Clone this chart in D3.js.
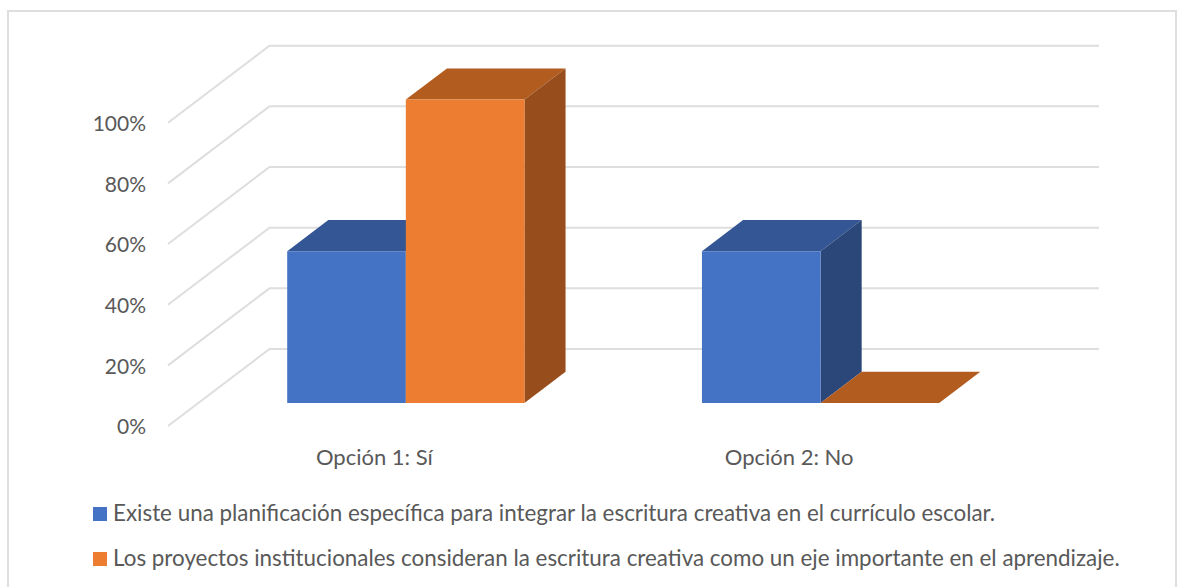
<!DOCTYPE html>
<html>
<head>
<meta charset="utf-8">
<script src="https://cdn.jsdelivr.net/npm/d3@7"></script>
<style>
body { margin: 0; background: #fff; }
text { font-family: Lato, "Open Sans", sans-serif; fill: #595959; }
</style>
</head>
<body>
<script>
// values
var categories = ["Opción 1: Sí", "Opción 2: No"];
var seriesNames = [
    "Existe una planificación específica para integrar la escritura creativa en el currículo escolar.",
    "Los proyectos institucionales consideran la escritura creativa como un eje importante en el aprendizaje."
];
var seriesA = [0.5, 0.5];
var seriesB = [1, 0];
var tickValues = [0, 0.2, 0.4, 0.6, 0.8, 1];

var colors = [
    { front: "#4472C4", top: "#345695", side: "#2B4779" },
    { front: "#ED7D31", top: "#B25C20", side: "#984E1C" }
];

var width = 1186, height = 587;

var svg = d3.select("body").append("svg")
    .attr("width", width)
    .attr("height", height)
    .style("display", "block");

// chart frame, open at the bottom where the picture was cropped
svg.append("path")
    .attr("d", "M8,587V11H1176V587")
    .attr("fill", "none")
    .attr("stroke", "#DEDEDE")
    .attr("stroke-width", 2);

// front plane scales
var x0 = d3.scaleBand().domain(categories).range([168, 997.5])
    .paddingInner(0.428).paddingOuter(0.214);
var x1 = d3.scaleBand().domain([0, 1]).range([0, x0.bandwidth()]);
var y = d3.scaleLinear().domain([0, 1]).range([426, 122.7]);

// depth: 0 is the front of the floor, 1 the back wall
var depthX = d3.scaleLinear().domain([0, 1]).range([0, 101.5]);
var depthY = d3.scaleLinear().domain([0, 1]).range([0, -77]);
var barFront = 0.3, barBack = 0.705;

function project(px, value, depth) {
    return [px + depthX(depth), y(value) + depthY(depth)];
}

// gridlines: up the side wall, then along the back wall
var line = d3.line();
svg.append("g").selectAll("path")
    .data(tickValues)
    .enter().append("path")
    .attr("fill", "none")
    .attr("stroke", "#DEDEDE")
    .attr("stroke-width", 2)
    .attr("d", function(d) {
        return line([project(168, d, 0), project(168, d, 1), project(997.5, d, 1)]);
    });

// bars, blue first so the orange one sits over its side
var bars = [];
[seriesA, seriesB].forEach(function(values, s) {
    values.forEach(function(v, c) {
        bars.push({ s: s, v: v, left: x0(categories[c]) + x1(s), right: x0(categories[c]) + x1(s) + x1.bandwidth() });
    });
});

var barG = svg.append("g").selectAll("g")
    .data(bars)
    .enter().append("g");

barG.append("path")
    .attr("fill", function(d) { return colors[d.s].top; })
    .attr("d", function(d) {
        return line([
            project(d.left, d.v, barFront), project(d.right, d.v, barFront),
            project(d.right, d.v, barBack), project(d.left, d.v, barBack)
        ]) + "Z";
    });

barG.filter(function(d) { return d.v > 0; }).append("path")
    .attr("fill", function(d) { return colors[d.s].side; })
    .attr("d", function(d) {
        return line([
            project(d.right, 0, barFront), project(d.right, d.v, barFront),
            project(d.right, d.v, barBack), project(d.right, 0, barBack)
        ]) + "Z";
    });

barG.filter(function(d) { return d.v > 0; }).append("path")
    .attr("fill", function(d) { return colors[d.s].front; })
    .attr("d", function(d) {
        return line([
            project(d.left, 0, barFront), project(d.right, 0, barFront),
            project(d.right, d.v, barFront), project(d.left, d.v, barFront)
        ]) + "Z";
    });

// axes
var yAxis = d3.axisLeft(y)
    .tickValues(tickValues)
    .tickFormat(d3.format(".0%"))
    .tickSize(0)
    .tickPadding(0);

var yG = svg.append("g")
    .attr("transform", "translate(146,1)")
    .call(yAxis);
yG.select(".domain").remove();
yG.selectAll("text").style("font-size", "21px").attr("fill", null);

var xAxis = d3.axisBottom(x0).tickSize(0).tickPadding(0);
var xG = svg.append("g")
    .attr("transform", "translate(-1,449)")
    .call(xAxis);
xG.select(".domain").remove();
xG.selectAll("text").style("font-size", "22px").attr("fill", null);

// legend
var legend = svg.append("g").selectAll("g")
    .data(seriesNames)
    .enter().append("g")
    .attr("transform", function(d, i) { return "translate(93," + (507 + i * 45) + ")"; });

legend.append("rect")
    .attr("width", 14)
    .attr("height", 14)
    .attr("fill", function(d, i) { return colors[i].front; });

legend.append("text")
    .attr("x", 20)
    .attr("y", 14)
    .style("font-size", "22.4px")
    .text(function(d) { return d; });
</script>
</body>
</html>
